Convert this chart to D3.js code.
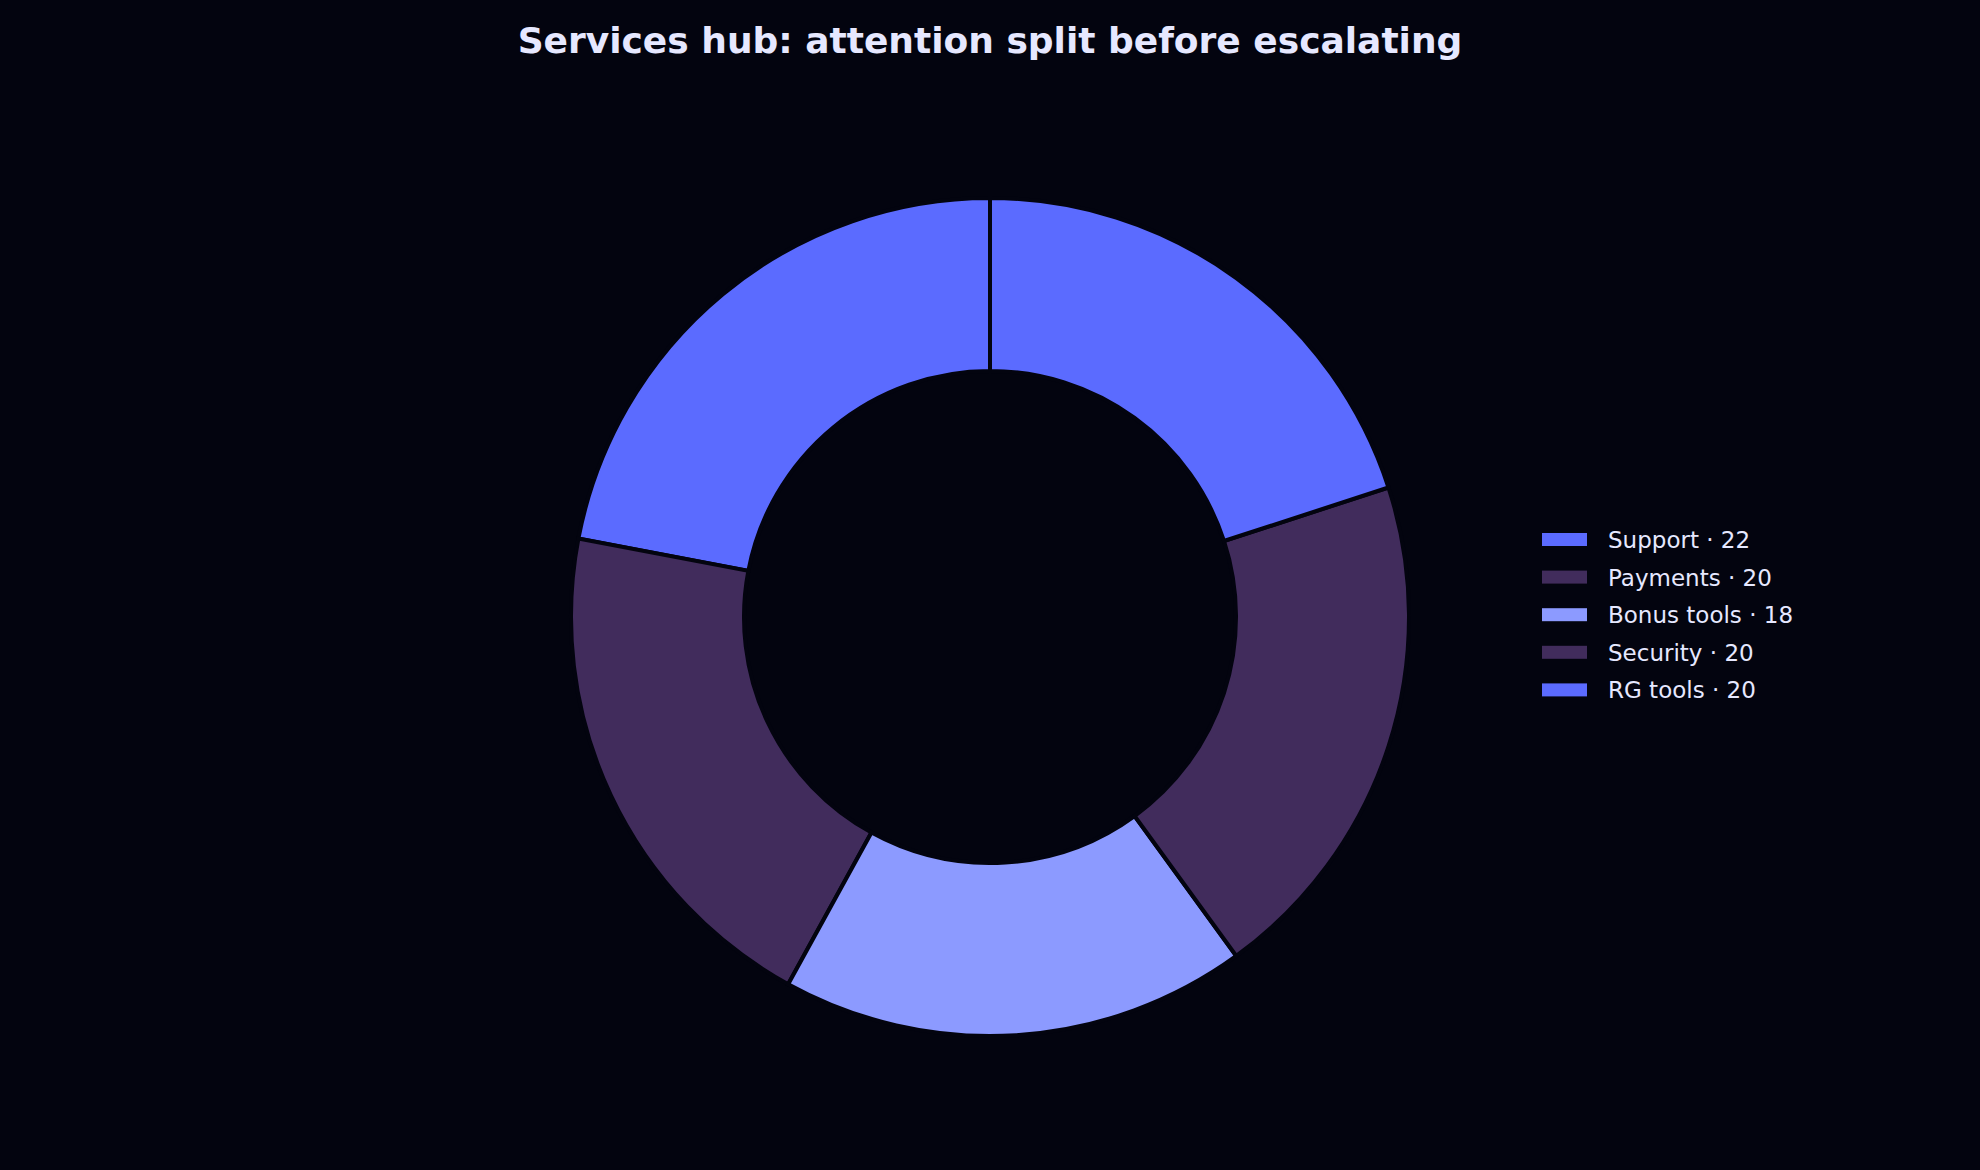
<!DOCTYPE html>
<html><head><meta charset="utf-8">
<script src="https://cdn.jsdelivr.net/npm/d3@7"></script>
<style>body{margin:0;background:#03040f;}</style></head>
<body><svg id="c" width="1980" height="1170"></svg>
<script>
const categories = ["Support","Payments","Bonus tools","Security","RG tools"];
const values = [22,20,18,20,20];
const colors = ["#5b6bff","#412c5c","#8c9aff","#412c5c","#5b6bff"];

const svg = d3.select("#c");
svg.append("rect").attr("width",1980).attr("height",1170).attr("fill","#03040f");
svg.append("text").attr("x",990).attr("y",53).attr("text-anchor","middle")
  .attr("fill","#e6e8ff").attr("font-family","DejaVu Sans").attr("font-weight","bold")
  .attr("font-size",36).text("Services hub: attention split before escalating");

const pie = d3.pie().sort(null).startAngle(0).endAngle(-2*Math.PI);
const arc = d3.arc().innerRadius(246).outerRadius(419);
const g = svg.append("g").attr("transform","translate(990,617)");
g.selectAll("path").data(pie(values)).join("path")
  .attr("d",arc).attr("fill",(d,i)=>colors[i])
  .attr("stroke","#03040f").attr("stroke-width",4).attr("stroke-linejoin","miter");

const lg = svg.append("g");
categories.forEach((c,i)=>{
  const y = 540 + i*37.6;
  lg.append("rect").attr("x",1542).attr("y",y-7).attr("width",45).attr("height",13).attr("fill",colors[i]);
  lg.append("text").attr("x",1608).attr("y",y+8).attr("fill","#e6e8ff")
    .attr("font-family","DejaVu Sans").attr("font-size",23).text(c+" · "+values[i]);
});
</script></body></html>
